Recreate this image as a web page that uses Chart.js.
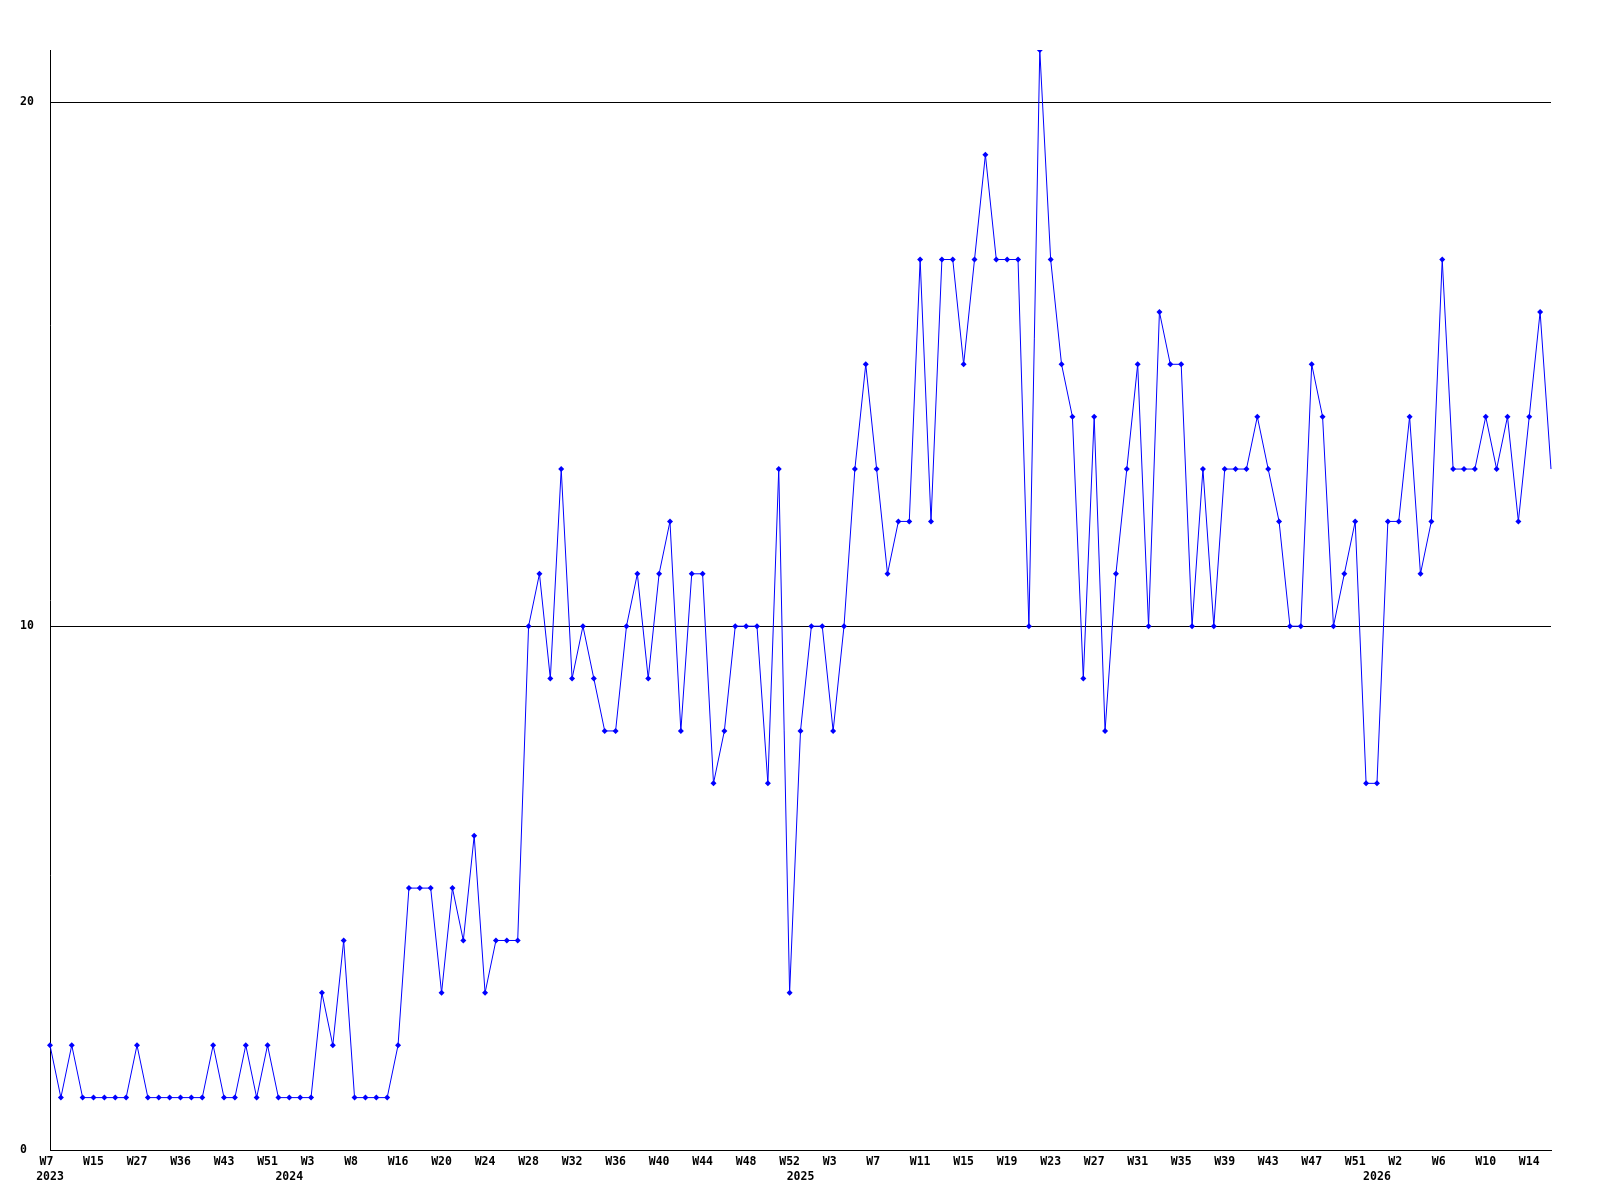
<!DOCTYPE html>
<html>
<head>
<meta charset="utf-8">
<script src="https://cdn.jsdelivr.net/npm/chart.js@4/dist/chart.umd.min.js"></script>
<style>
  html, body { margin: 0; padding: 0; background: #fff; }
</style>
</head>
<body>
<canvas id="weeklyChart" width="1600" height="1200"></canvas>
<script>
// weekly counts, one per point
const counts = [
  2, 1, 2, 1, 1, 1, 1, 1, 2, 1, 1, 1, 1, 1, 1, 2, 1, 1, 2, 1, 2, 1, 1, 1, 1, 3, 2, 4, 1, 1, 1, 1, 2, 5, 5, 5, 3, 5, 4, 6, 3, 4, 4, 4,
  10, 11, 9, 13, 9, 10, 9, 8, 8, 10,
  11, 9, 11, 12, 8, 11, 11, 7, 8, 10,
  10, 10, 7, 13, 3, 8, 10, 10, 8, 10,
  13, 15, 13, 11, 12, 12, 17, 12, 17, 17,
  15, 17, 19, 17, 17, 17, 10, 21, 17, 15,
  14, 9, 14, 8, 11, 13, 15, 10, 16, 15,
  15, 10, 13, 10, 13, 13, 13, 14, 13, 12,
  10, 10, 15, 14, 10, 11, 12, 7, 7, 12,
  12, 14, 11, 12, 17, 13, 13, 13, 14, 13,
  14, 12, 14, 16, 13
];

// a week label on every 4th point
const weekTicks = [
  'W7', 'W15', 'W27', 'W36', 'W43', 'W51', 'W3', 'W8', 'W16', 'W20', 'W24', 'W28',
  'W32', 'W36', 'W40', 'W44', 'W48', 'W52', 'W3', 'W7', 'W11', 'W15', 'W19', 'W23',
  'W27', 'W31', 'W35', 'W39', 'W43', 'W47', 'W51', 'W2', 'W6', 'W10', 'W14'
];
const tickEvery = 4;

// year labels and the point they sit under
const years = ['2023', '2024', '2025', '2026'];
const yearPoints = [0, 22, 69, 122];

const monoFont = { family: "'DejaVu Sans Mono', monospace", size: 11.5, weight: 'bold', lineHeight: '15px' };

new Chart('weeklyChart', {
  type: 'line',
  data: {
    labels: counts.map((c, i) => i),
    datasets: [{
      data: counts,
      borderColor: '#0000ff',
      backgroundColor: '#0000ff',
      borderWidth: 1,
      tension: 0,
      pointStyle: 'rectRot',
      pointRadius: (ctx) => ctx.dataIndex === counts.length - 1 ? 0 : 3,
      pointBorderWidth: 0,
      fill: false
    }]
  },
  options: {
    responsive: false,
    animation: false,
    layout: {
      padding: { top: 50, right: 49, left: 20, bottom: 0 }
    },
    plugins: {
      legend: { display: false },
      tooltip: { enabled: false }
    },
    scales: {
      x: {
        type: 'category',
        offset: false,
        afterFit: (scale) => { scale.height = 50; },
        grid: { drawOnChartArea: false, drawTicks: false },
        border: { display: true, color: '#000', width: 1 },
        ticks: {
          autoSkip: false,
          maxRotation: 0,
          padding: 5,
          color: '#000',
          font: monoFont,
          callback: (v, i) => {
            const wk = (i % tickEvery === 0 && weekTicks[i / tickEvery]) ? weekTicks[i / tickEvery] : '';
            const yi = yearPoints.indexOf(i);
            return yi >= 0 ? [wk.padEnd(3), years[yi]] : wk.padEnd(3);
          }
        }
      },
      y: {
        min: 0,
        max: 21,
        afterFit: (scale) => { scale.width = 30; },
        grid: { color: '#000', lineWidth: 1, drawTicks: false },
        border: { display: true, color: '#000', width: 1 },
        ticks: {
          stepSize: 10,
          includeBounds: false,
          crossAlign: 'far',
          padding: 0,
          color: '#000',
          font: monoFont
        }
      }
    }
  }
});
</script>
</body>
</html>
